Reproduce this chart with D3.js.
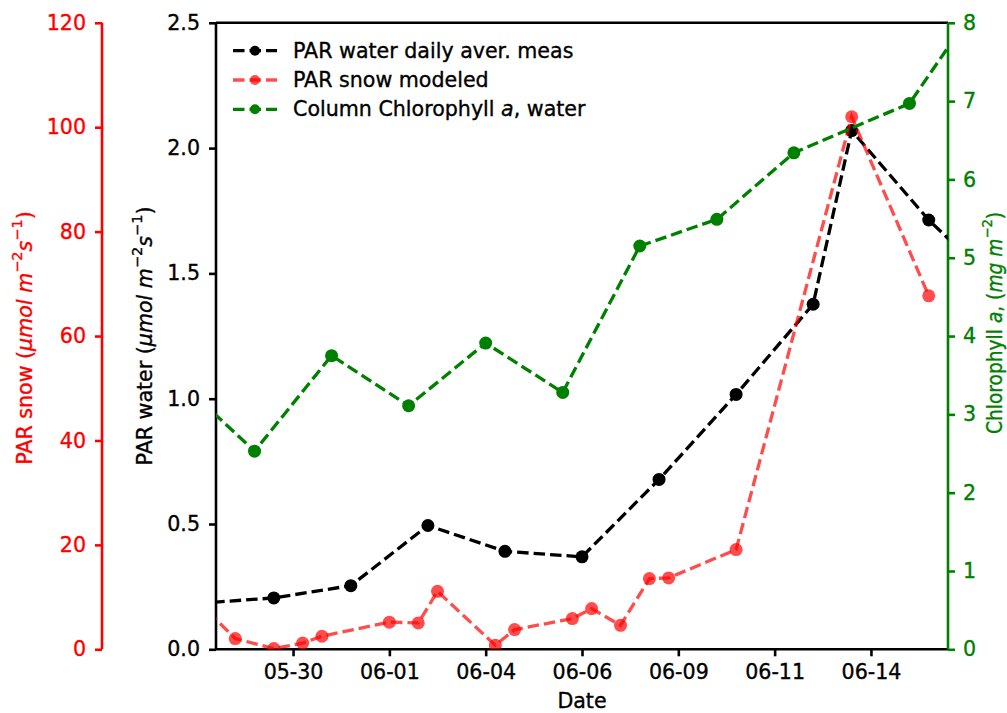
<!DOCTYPE html>
<html><head><meta charset="utf-8">
<script src="https://cdn.jsdelivr.net/npm/d3@7"></script>
<style>body{margin:0;background:#fff} text{font-family:"DejaVu Sans",sans-serif}</style>
</head><body><svg id="c" width="1007" height="713"></svg>
<script>
// ---- data ----
const waterDates = ["2018-05-27 12:00","2018-05-29 12:00","2018-05-31 12:00","2018-06-02 12:00","2018-06-04 12:00","2018-06-06 12:00","2018-06-08 12:00","2018-06-10 12:00","2018-06-12 12:00","2018-06-13 12:00","2018-06-15 12:00","2018-06-17 12:00"];
const waterValues = [0.183,0.205,0.254,0.494,0.391,0.369,0.678,1.017,1.377,2.07,1.713,1.42];

const snowDates = ["2018-05-27 12:00","2018-05-28 12:00","2018-05-29 12:00","2018-05-30 06:00","2018-05-30 18:00","2018-06-01 12:00","2018-06-02 06:00","2018-06-02 18:00","2018-06-04 06:00","2018-06-04 18:00","2018-06-06 06:00","2018-06-06 18:00","2018-06-07 12:00","2018-06-08 06:00","2018-06-08 18:00","2018-06-10 12:00","2018-06-13 12:00","2018-06-15 12:00"];
const snowValues = [9.4,2.05,0.13,1.2,2.5,5.2,5.05,11.1,0.77,3.77,5.88,7.8,4.6,13.55,13.67,19.1,102.0,67.7];

const chlDates = ["2018-05-27 00:00","2018-05-29 00:00","2018-05-31 00:00","2018-06-02 00:00","2018-06-04 00:00","2018-06-06 00:00","2018-06-08 00:00","2018-06-10 00:00","2018-06-12 00:00","2018-06-15 00:00","2018-06-17 00:00"];
const chlValues = [3.45,2.53,3.75,3.11,3.91,3.28,5.15,5.49,6.34,6.97,8.4];

const xDomain = ["2018-05-28 00:00","2018-06-16 00:00"];
const xTickDates = ["2018-05-30 00:00","2018-06-01 12:00","2018-06-04 00:00","2018-06-06 12:00","2018-06-09 00:00","2018-06-11 12:00","2018-06-14 00:00"];
const xTickLabels = ["05-30","06-01","06-04","06-06","06-09","06-11","06-14"];
const waterTicks = [0,0.5,1.0,1.5,2.0,2.5];
const snowTicks = [0,20,40,60,80,100,120];
const chlTicks = [0,1,2,3,4,5,6,7,8];
const legendLabels = ["PAR water daily aver. meas","PAR snow modeled","Column Chlorophyll a, water"];

// ---- layout ----
const L = 216, R = 948, T = 22.8, B = 649.3;
const FS = 20.6;
const TXS = 0.35; // slight embolden to mimic Agg rendering
const parse = d3.utcParse("%Y-%m-%d %H:%M");
const svg = d3.select("#c");

const x = d3.scaleUtc().domain(xDomain.map(parse)).range([L, R]);
const yW = d3.scaleLinear().domain([0, 2.5]).range([B, T]);
const yS = d3.scaleLinear().domain([0, 120]).range([B, T]);
const yC = d3.scaleLinear().domain([0, 8]).range([B, T]);

svg.append("defs").append("clipPath").attr("id","clip")
  .append("rect").attr("x",L).attr("y",T).attr("width",R-L).attr("height",B-T);

const SW = 2.6, TL = 7;

function boldish(sel, color) {
  sel.attr("stroke", color).attr("stroke-width", TXS);
}

function styleAxis(g, color) {
  g.selectAll(".domain").remove();
  g.selectAll(".tick line").attr("stroke", color).attr("stroke-width", SW);
  const t = g.selectAll(".tick text").attr("fill", color).style("font-size", FS + "px").style("font-family", '"DejaVu Sans",sans-serif');
  boldish(t, color);
}

// bottom axis
const gx = svg.append("g").attr("transform", `translate(0,${B})`)
  .call(d3.axisBottom(x).tickValues(xTickDates.map(parse)).tickFormat((d,i) => xTickLabels[i]).tickSize(TL).tickPadding(8));
styleAxis(gx, "#000");

// left water axis
const gw = svg.append("g").attr("transform", `translate(${L},0)`)
  .call(d3.axisLeft(yW).tickValues(waterTicks).tickFormat(d3.format(".1f")).tickSize(TL).tickPadding(9));
styleAxis(gw, "#000");

// offset snow axis
const SX = 102;
const gs = svg.append("g").attr("transform", `translate(${SX},0)`)
  .call(d3.axisLeft(yS).tickValues(snowTicks).tickFormat(d3.format("d")).tickSize(TL).tickPadding(9));
styleAxis(gs, "red");
svg.append("line").attr("x1",SX).attr("x2",SX).attr("y1",yS(0)).attr("y2",yS(120)).attr("stroke","red").attr("stroke-width",SW);

// right chl axis
const gc = svg.append("g").attr("transform", `translate(${R},0)`)
  .call(d3.axisRight(yC).tickValues(chlTicks).tickFormat(d3.format("d")).tickSize(TL).tickPadding(8));
styleAxis(gc, "green");

// frame spines
svg.append("line").attr("x1",L).attr("x2",R).attr("y1",T).attr("y2",T).attr("stroke","#000").attr("stroke-width",SW);
svg.append("line").attr("x1",L).attr("x2",R).attr("y1",B).attr("y2",B).attr("stroke","#000").attr("stroke-width",SW);
svg.append("line").attr("x1",L).attr("x2",L).attr("y1",T).attr("y2",B).attr("stroke","#000").attr("stroke-width",SW);
svg.append("line").attr("x1",R).attr("x2",R).attr("y1",T).attr("y2",B).attr("stroke","green").attr("stroke-width",SW);

// series
const DASH = "11.5,5", LW = 3.3, MR = 6.5;
function series(dates, vals, y, color, op) {
  const pts = dates.map((d,i) => [x(parse(d)), y(vals[i])]);
  const g = svg.append("g").attr("clip-path","url(#clip)");
  g.append("path").attr("d", d3.line()(pts)).attr("fill","none").attr("stroke",color)
    .attr("stroke-width",LW).attr("stroke-dasharray",DASH).attr("stroke-opacity",op);
  g.selectAll("circle").data(pts).join("circle").attr("cx",d=>d[0]).attr("cy",d=>d[1]).attr("r",MR)
    .attr("fill",color).attr("fill-opacity",op);
}
series(waterDates, waterValues, yW, "#000", 1);
series(snowDates, snowValues, yS, "red", 0.7);
series(chlDates, chlValues, yC, "green", 1);

// legend
const legColors = [["#000",1],["red",0.7],["green",1]];
const legY = [50.7, 80, 109.3];
legendLabels.forEach((lab,i) => {
  const g = svg.append("g");
  g.append("line").attr("x1",233).attr("x2",277).attr("y1",legY[i]).attr("y2",legY[i])
    .attr("stroke",legColors[i][0]).attr("stroke-opacity",legColors[i][1]).attr("stroke-width",LW).attr("stroke-dasharray",DASH);
  g.append("circle").attr("cx",255).attr("cy",legY[i]).attr("r",5).attr("fill",legColors[i][0]).attr("fill-opacity",legColors[i][1]);
  const t = g.append("text").attr("x",293).attr("y",legY[i]+7).style("font-size",FS+"px").attr("fill","#000");
  boldish(t, "#000");
  if (lab.indexOf(" a,") >= 0) {
    const parts = lab.split(" a,");
    t.append("tspan").text(parts[0] + " ");
    t.append("tspan").attr("font-style","italic").text("a");
    t.append("tspan").text("," + parts[1]);
  } else t.text(lab);
});

// axis labels
boldish(svg.append("text").attr("x",(L+R)/2).attr("y",708).attr("text-anchor","middle").style("font-size",FS+"px").text("Date"), "#000");

function unitLabel(cx, cy, color, prefix) {
  const t = svg.append("text").attr("transform",`translate(${cx},${cy}) rotate(-90)`).attr("text-anchor","middle")
    .attr("dominant-baseline","central").attr("fill",color).style("font-size",FS+"px");
  boldish(t, color);
  t.append("tspan").text(prefix + " (");
  t.append("tspan").attr("font-style","italic").text("\u03BCmol m");
  t.append("tspan").attr("dy",-8).style("font-size","14.5px").text("\u22122");
  t.append("tspan").attr("dy",8).attr("font-style","italic").text("s");
  t.append("tspan").attr("dy",-8).style("font-size","14.5px").text("\u22121");
  t.append("tspan").attr("dy",8).text(")");
}
unitLabel(25, 338, "red", "PAR snow");
unitLabel(145, 336, "#000", "PAR water");

const tc = svg.append("text").attr("transform",`translate(995,323) rotate(-90)`).attr("text-anchor","middle")
  .attr("dominant-baseline","central").attr("fill","green").style("font-size",FS+"px")
  .attr("textLength",222).attr("lengthAdjust","spacingAndGlyphs");
boldish(tc, "green");
tc.append("tspan").text("Chlorophyll ");
tc.append("tspan").attr("font-style","italic").text("a");
tc.append("tspan").text(", (");
tc.append("tspan").attr("font-style","italic").text("mg m");
tc.append("tspan").attr("dy",-8).style("font-size","14.5px").text("\u22122");
tc.append("tspan").attr("dy",8).text(")");
</script></body></html>
